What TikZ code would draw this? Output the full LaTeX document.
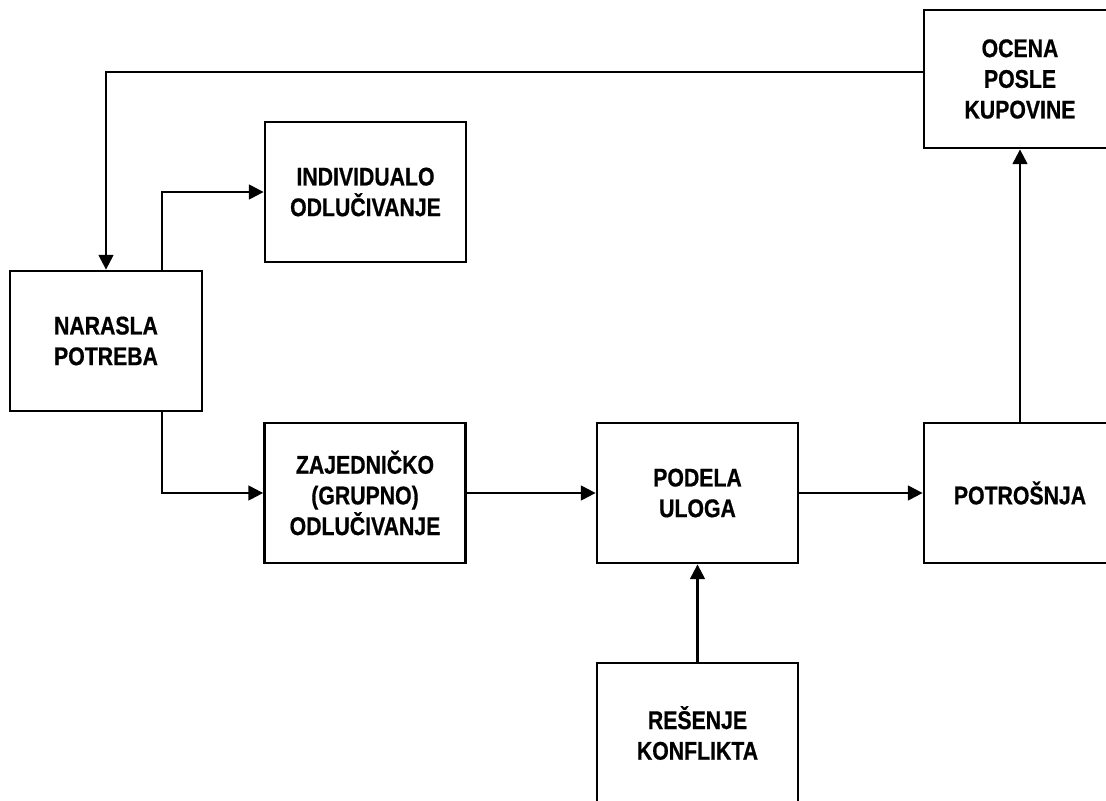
\documentclass[tikz,border=0pt]{standalone}
\usepackage{fontspec}
\newfontfamily\boxfont{Liberation Sans}[FakeStretch=0.83,FakeBold=0.6]
\usetikzlibrary{arrows.meta,calc}

% one drawing unit = 0.75pt
\tikzset{
  stage/.style={draw=black, line width=2.1pt, fill=white, align=center,
    inner sep=0pt, minimum width=150.75pt, minimum height=105pt,
    font=\boxfont\bfseries\fontsize{19.2pt}{23pt}\selectfont},
  narrow/.style={minimum width=144pt},
  flow/.style={line width=1.7pt, -{Triangle[length=11pt,width=11pt]}}
}

\begin{document}
\begin{tikzpicture}[x=0.75pt,y=-0.75pt]
  \useasboundingbox (0,0) rectangle (1106,800);
  \clip (0,0) rectangle (1106,800);

  % stages of the buying process
  \node[stage, narrow, minimum height=103.5pt] (ocena) at (1020,79) {OCENA\\POSLE\\KUPOVINE};
  \node[stage] (indiv) at (365.5,192) {INDIVIDUALO\\ODLU\v{C}IVANJE};
  \node[stage, narrow] (narasla) at (106,341) {NARASLA\\POTREBA};
  \node[stage] (zajed) at (365,493) {ZAJEDNI\v{C}KO\\(GRUPNO)\\ODLU\v{C}IVANJE};
  \node[stage] (podela) at (697.5,493) {PODELA\\ULOGA};
  \node[stage, narrow] (potrosnja) at (1020,493) {POTRO\v{S}NJA};
  \node[stage] (resenje) at (697.5,733) {RE\v{S}ENJE\\KONFLIKTA};

  % attachment points on box edges
  \coordinate (fb) at ($(ocena.north west)!0.45!(ocena.south west)$);
  \coordinate (split) at ($(narasla.north west)!0.786!(narasla.north east)$);
  \coordinate (splitdown) at ($(narasla.south west)!0.786!(narasla.south east)$);

  % feedback loop from evaluation back to the need
  \draw[flow] (fb) -| (narasla.north);
  % branching of the decision
  \draw[flow] (split) |- (indiv.west);
  \draw[flow] (splitdown) |- (zajed.west);
  % main flow
  \draw[flow] (zajed.east) -- (podela.west);
  \draw[flow] (podela.east) -- (potrosnja.west);
  \draw[flow] (potrosnja.north) -- (ocena.south);
  \draw[flow] (resenje.north) -- (podela.south);
\end{tikzpicture}
\end{document}
